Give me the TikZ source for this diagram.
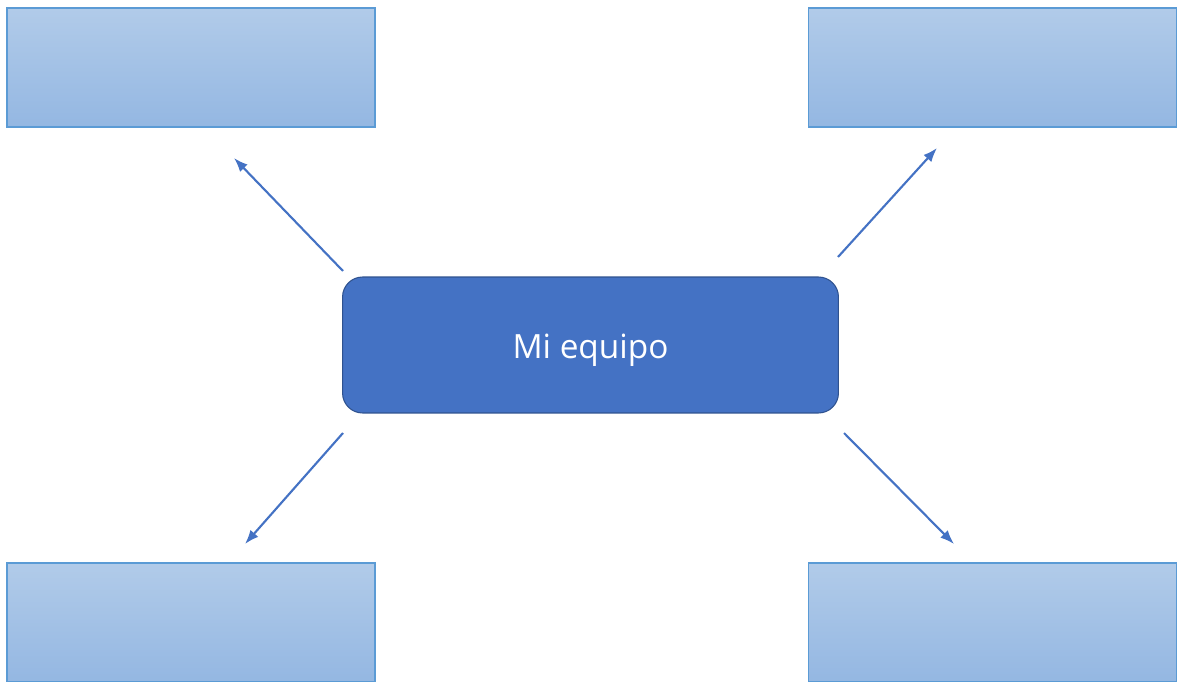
\documentclass[tikz,border=0pt]{standalone}
\usepackage{fontspec}
\setmainfont{Open Sans}
\usetikzlibrary{arrows.meta}
\definecolor{boxtop}{HTML}{B1CBE9}
\definecolor{boxbot}{HTML}{94B7E2}
\definecolor{boxline}{HTML}{5B9BD5}
\definecolor{mainfill}{HTML}{4472C4}
\definecolor{mainline}{HTML}{2F528F}
\tikzset{
  leafbox/.style={draw=boxline, line width=0.9pt, top color=boxtop, bottom color=boxbot,
    minimum width=7.36cm, minimum height=2.38cm, inner sep=0pt},
  hubbox/.style={draw=mainline, line width=0.6pt, fill=mainfill, rounded corners=0.4cm,
    minimum width=9.92cm, minimum height=2.72cm, text=white, font=\fontsize{19}{22}\selectfont},
  link/.style={draw=mainfill, line width=1.2pt, -{Latex[length=8pt,width=6pt]}}
}
\begin{document}
\begin{tikzpicture}[x=0.02cm,y=-0.02cm]
	\clip (0,0) rectangle (1189,682);
	\fill[white] (0,0) rectangle (1189,682);

	% boxes
	\node [hubbox] (hub) at (590.5,345) {};
	\node [text=white, font=\fontsize{19}{22}\selectfont] (hubtext) at (590.5,350) {Mi equipo};
	\node [leafbox] (tl) at (191,67.5) {};
	\node [leafbox] (tr) at (992.5,67.5) {};
	\node [leafbox] (bl) at (191,622.5) {};
	\node [leafbox] (br) at (992.5,622.5) {};

	% arrow ends
	\coordinate (tlfrom) at (343,271);
	\coordinate (tlto) at (234,158);
	\coordinate (trfrom) at (838,257);
	\coordinate (trto) at (937,148);
	\coordinate (blfrom) at (343,433);
	\coordinate (blto) at (245,544);
	\coordinate (brfrom) at (844,433);
	\coordinate (brto) at (954,544);

	\draw [link] (tlfrom) -- (tlto);
	\draw [link] (trfrom) -- (trto);
	\draw [link] (blfrom) -- (blto);
	\draw [link] (brfrom) -- (brto);
\end{tikzpicture}
\end{document}
